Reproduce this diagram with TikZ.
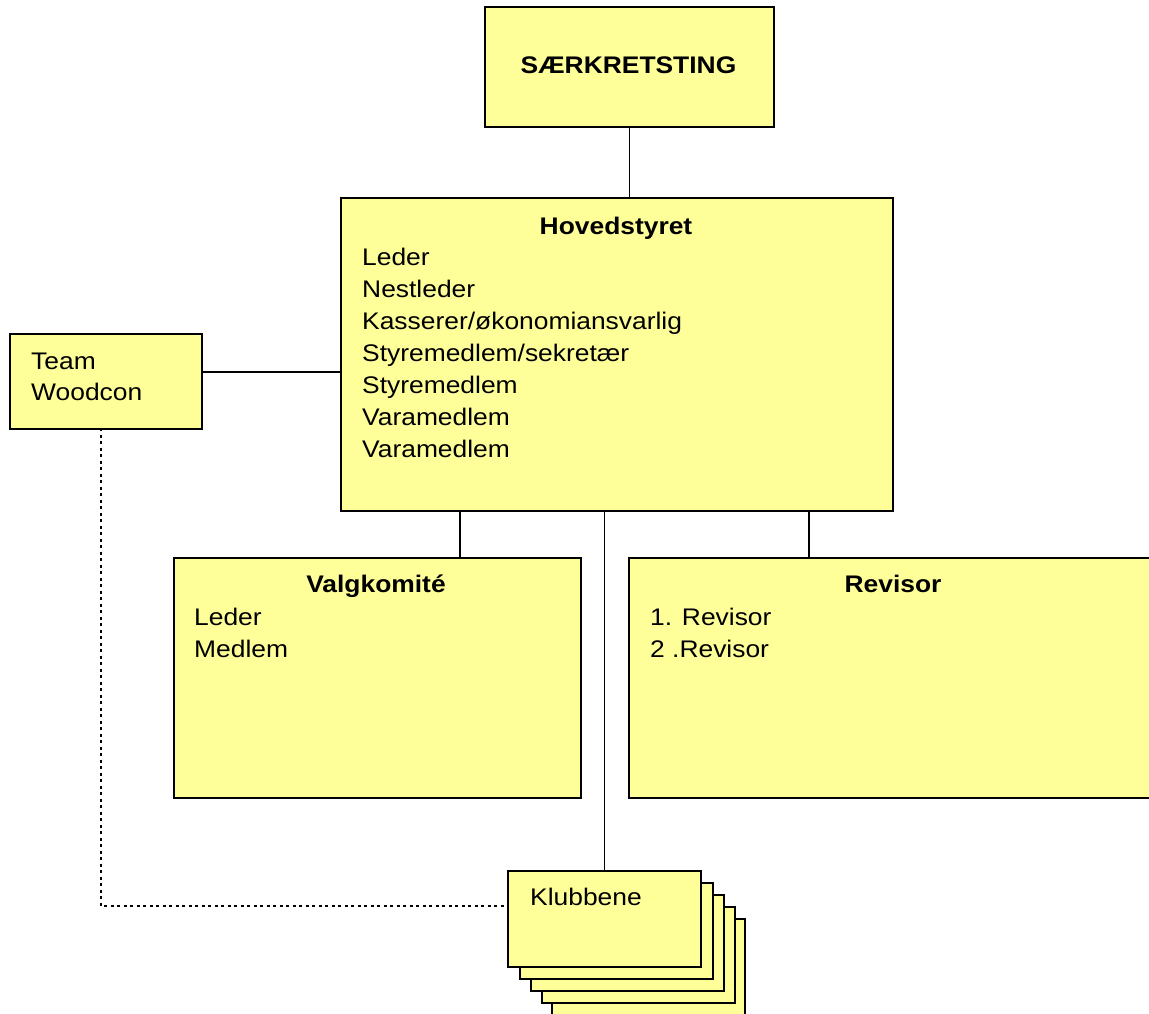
\documentclass[tikz,border=0pt]{standalone}
\usepackage{fontspec}
\setmainfont{Liberation Sans}[FakeStretch=1.1]
\definecolor{boxyellow}{RGB}{255,255,153}
\begin{document}
\begin{tikzpicture}[x=1pt,y=-1pt,
  box/.style={draw=black, fill=boxyellow, line width=1.7pt, rectangle, inner sep=0pt, anchor=north west},
  txt/.style={inner sep=0pt, font=\fontsize{24}{32}\selectfont},
  conn/.style={line width=1.6pt, draw=black},
  dotconn/.style={line width=1.6pt, draw=black, dash pattern=on 3pt off 3.5pt}]
\useasboundingbox (0,0) rectangle (1149,1013);
% boxes
\node[box, minimum width=289pt, minimum height=120pt] (sk) at (484,6) {};
\node[box, minimum width=552pt, minimum height=313pt] (hov) at (340,197) {};
\node[box, minimum width=192pt, minimum height=95pt] (team) at (9,333) {};
\node[box, minimum width=407pt, minimum height=240pt] (valg) at (173,557) {};
\node[box, minimum width=540pt, minimum height=240pt] (rev) at (628,557) {};
% Klubbene stack (back to front)
\node[box, minimum width=193pt, minimum height=96pt] (klub5) at (551,918) {};
\node[box, minimum width=193pt, minimum height=96pt] (klub4) at (541,906) {};
\node[box, minimum width=193pt, minimum height=96pt] (klub3) at (530,894) {};
\node[box, minimum width=193pt, minimum height=96pt] (klub2) at (519,882) {};
\node[box, minimum width=193pt, minimum height=96pt] (klub1) at (507,870) {};
% texts
\node[txt, anchor=base] (skt) at (628.5,73) {\bfseries SÆRKRETSTING};
\node[txt, anchor=base] (hovt) at (616,234) {\bfseries Hovedstyret};
\node[txt, anchor=base west] at (362,265) {Leder};
\node[txt, anchor=base west] at (362,297) {Nestleder};
\node[txt, anchor=base west] at (362,329) {Kasserer/økonomiansvarlig};
\node[txt, anchor=base west] at (362,361) {Styremedlem/sekretær};
\node[txt, anchor=base west] at (362,393) {Styremedlem};
\node[txt, anchor=base west] at (362,425) {Varamedlem};
\node[txt, anchor=base west] at (362,457) {Varamedlem};
\node[txt, anchor=base west] at (31,369) {Team};
\node[txt, anchor=base west] at (31,400) {Woodcon};
\node[txt, anchor=base] at (376,592) {\bfseries Valgkomité};
\node[txt, anchor=base west] at (194,625) {Leder};
\node[txt, anchor=base west] at (194,657) {Medlem};
\node[txt, anchor=base] at (893,592) {\bfseries Revisor};
\node[txt, anchor=base west] at (650,625) {1. Revisor};
\node[txt, anchor=base west] at (650,657) {2 .Revisor};
\node[txt, anchor=base west] at (530,905) {Klubbene};
% connectors
\coordinate (hv) at (460,510);
\coordinate (hr) at (809,510);
\coordinate (tl) at (201,372);
\coordinate (td) at (101,428);
\coordinate (kd) at ([yshift=-36pt]klub1.north west);
\draw[conn] (sk.south) -- (sk.south |- hov.north);
\draw[conn] (tl) -- (tl -| hov.west);
\draw[conn] (hv) -- (hv |- valg.north);
\draw[conn] (hr) -- (hr |- rev.north);
\draw[conn] (klub1.north) -- (klub1.north |- hov.south);
\draw[dotconn] (td) -- (td |- kd) -- (kd);
\end{tikzpicture}
\end{document}
